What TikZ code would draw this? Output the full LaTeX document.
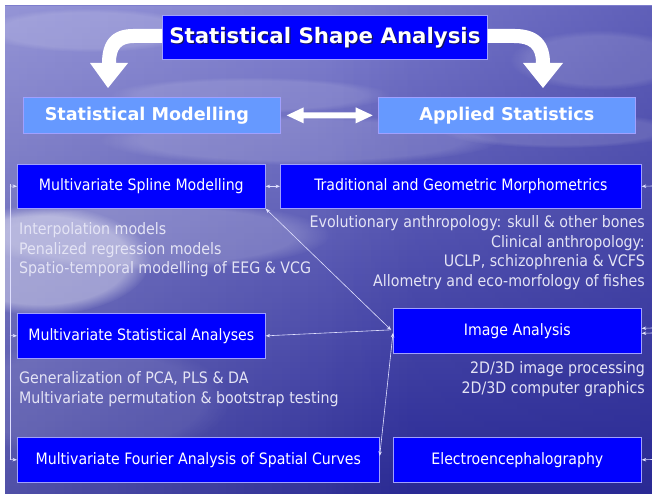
\documentclass[tikz,border=0pt]{standalone}
\usepackage{fontspec}
\setmainfont{DejaVu Sans Condensed}
\newfontfamily\headfont{DejaVu Sans}
\usetikzlibrary{arrows.meta,fadings}

\definecolor{skytop}{RGB}{125,125,205}
\definecolor{skymid}{RGB}{75,75,178}
\definecolor{skylow}{RGB}{42,42,148}
\definecolor{deepblue}{RGB}{0,0,255}
\definecolor{paleblue}{RGB}{102,153,255}
\definecolor{boxedge}{RGB}{160,160,255}
\definecolor{notecol}{RGB}{228,228,245}
\definecolor{shadowcol}{RGB}{20,20,90}

\tikzset{
  deepbox/.style={draw=boxedge, line width=0.7pt, fill=deepblue, text=white,
    inner sep=0pt, anchor=north west, font=\fontsize{15.7}{17}\selectfont},
  palebox/.style={draw=boxedge, line width=0.7pt, fill=paleblue, text=white,
    inner sep=0pt, anchor=north west, font=\headfont\bfseries\fontsize{17.6}{19}\selectfont},
  note/.style={text=notecol, inner sep=0pt, font=\fontsize{15.8}{19.8}\selectfont},
  link/.style={draw=white!88!blue, line width=0.6pt},
  tip/.tip={Stealth[length=4.5pt,width=3.5pt]},
  bigarrow/.style={fill=white, draw=none},
  haze/.style={fill=white, path fading=circle with fuzzy edge 20 percent},
}

\begin{document}
\begin{tikzpicture}[x=1pt,y=-1pt]
\useasboundingbox (0,0) rectangle (652,494);

% ---- sky and sea backdrop ----
\fill[white] (0,0) rectangle (652,494);
\shade[top color=skytop, middle color=skymid, bottom color=skylow] (5,6) rectangle (652,494);
\fill[white, opacity=0.18, path fading=east] (5,6) rectangle (420,494);
\fill[skylow, opacity=0.35, path fading=west] (330,6) rectangle (652,494);
% drifting clouds
\fill[haze, opacity=0.14] (90,30) ellipse (110 and 22);
\fill[haze, opacity=0.14] (300,140) ellipse (200 and 25);
\fill[haze, opacity=0.12] (560,130) ellipse (120 and 18);
\fill[haze, opacity=0.12] (600,60) ellipse (90 and 30);
\fill[haze, opacity=0.12] (250,95) ellipse (140 and 18);
% glare on the water
\fill[haze, opacity=0.38] (40,260) ellipse (110 and 55);
\fill[haze, opacity=0.18] (150,235) ellipse (180 and 35);
\fill[haze, opacity=0.08] (90,400) ellipse (140 and 60);

% ---- heading and the two branches ----
\node[deepbox, minimum width=325, minimum height=44] (title) at (162,15) {};
\node[text=shadowcol, font=\headfont\bfseries\fontsize{21.3}{24}\selectfont, inner sep=0pt]
  (titleShade) at ([xshift=1.2pt,yshift=-1.2pt]title.center) {Statistical Shape Analysis};
\node[text=white, font=\headfont\bfseries\fontsize{21.3}{24}\selectfont, inner sep=0pt]
  (titleText) at (title.center) {Statistical Shape Analysis};

\node[palebox, minimum width=257, minimum height=36] (model) at (23,97) {\hspace*{-10pt}Statistical Modelling};
\node[palebox, minimum width=257, minimum height=36] (applied) at (378,97) {Applied Statistics};

% curved arrows from the heading
\fill[bigarrow] (title.west |- 0,29) -- (133,29)
   .. controls (111,29) and (102,42) .. (102,63) -- (90,63) -- (108,88) -- (128,63) -- (116,63)
   .. controls (116,49) and (121,43) .. (134,43) -- (title.west |- 0,43) -- cycle;
\fill[bigarrow] (title.east |- 0,29) -- (515,29)
   .. controls (539,29) and (550,42) .. (550,63) -- (563,63) -- (543,88) -- (523,63) -- (536,63)
   .. controls (536,49) and (530,43) .. (514,43) -- (title.east |- 0,43) -- cycle;

% double arrow between the branches
\fill[bigarrow] (model.east) ++(6,0) -- ++(17,-8) -- ++(0,5) -- ++(52,0) -- ++(0,-5)
   -- ++(17,8) -- ++(-17,8) -- ++(0,-5) -- ++(-52,0) -- ++(0,5) -- cycle;

% ---- topic boxes ----
\node[deepbox, minimum width=248, minimum height=44] (spline) at (17,164) {Multivariate Spline Modelling};
\node[deepbox, minimum width=361, minimum height=44] (morph) at (280,164) {Traditional and Geometric Morphometrics};
\node[deepbox, minimum width=248, minimum height=45] (msa) at (17,313) {Multivariate Statistical Analyses};
\node[deepbox, minimum width=248, minimum height=45] (image) at (393,308) {Image Analysis};
\node[deepbox, minimum width=362, minimum height=45] (fourier) at (17,437) {Multivariate Fourier Analysis of Spatial Curves};
\node[deepbox, minimum width=248, minimum height=45] (eeg) at (393,437) {Electroencephalography};

% ---- descriptions ----
\node[note, anchor=north west, align=left] (splineNotes) at (19,222)
  {Interpolation models\\Penalized regression models\\Spatio-temporal modelling of EEG \& VCG};
\node[note, anchor=north east, align=right] (morphNotes) at (645,215)
  {Evolutionary anthropology: skull \& other bones\\Clinical anthropology:\\UCLP, schizophrenia \& VCFS\\Allometry and eco-morfology of fishes};
\node[note, anchor=north west, align=left] (msaNotes) at (19,371)
  {Generalization of PCA, PLS \& DA\\Multivariate permutation \& bootstrap testing};
\node[note, anchor=north east, align=right] (imageNotes) at (645,361)
  {2D/3D image processing\\2D/3D computer graphics};

% ---- links ----
\coordinate (lbTop) at (10,184);
\coordinate (lbA) at (10,186);
\coordinate (lbB) at (10,335.5);
\coordinate (lbC) at (10,459.5);
\draw[link] (lbTop) -- (lbC);
\draw[link,-tip] (lbA) -- (spline.west);
\draw[link,-tip] (lbB) -- (msa.west);
\draw[link,-tip] (lbC) -- (fourier.west);

\coordinate (rbA) at (652,186);
\coordinate (rbB) at (652,328);
\coordinate (rbB2) at (652,333);
\coordinate (rbC) at (652,459.5);
\draw[link,-tip] (rbA) -- (morph.east);
\draw[link,-tip] (rbB) -- ([yshift=2.5pt]image.east);
\draw[link,-tip] (rbB2) -- ([yshift=-2.5pt]image.east);
\draw[link,-tip] (rbC) -- (eeg.east);

\draw[link,tip-tip] (spline.east) -- (morph.west);
\coordinate (imgHub) at ([xshift=-2pt,yshift=1pt]image.west);
\draw[link,tip-tip] (imgHub) -- (spline.south east);
\draw[link,-tip] (imgHub) -- (msa.east);
\draw[link,tip-tip] ([yshift=-2pt]image.west) -- ([yshift=4pt]fourier.east);
\end{tikzpicture}
\end{document}
